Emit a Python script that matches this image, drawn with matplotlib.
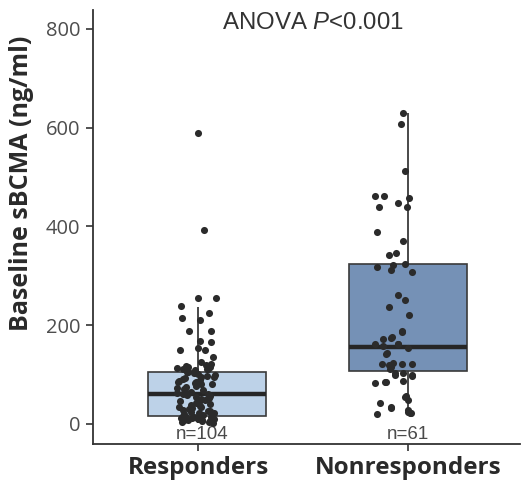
import numpy as np
import matplotlib.pyplot as plt

plt.rcParams['font.family'] = 'Open Sans'
plt.rcParams['mathtext.fontset'] = 'custom'
plt.rcParams['mathtext.rm'] = 'Liberation Sans'
plt.rcParams['mathtext.it'] = 'Liberation Sans:italic'

# groups and box summary (ng/ml)
groups = ['Responders', 'Nonresponders']
counts = [104, 61]
q1 = [16, 108]
med = [61, 156]
q3 = [105, 324]
whislo = [3, 20]
whishi = [237, 630]
yticks = [0, 200, 400, 600, 800]

# responders: sparse upper points and the dense lower cluster
resp_upper = [589, 393, 255, 255, 238, 225, 215, 211, 189, 189, 168, 165,
              150, 153, 150, 136, 111]
resp_lower = [125, 122, 120, 118, 116, 115, 113, 112, 111, 110,
              108, 106, 105, 104, 103, 101, 100, 98, 96, 95, 93, 92, 90,
              88, 86, 85, 83, 81, 80, 78, 76, 74, 72, 71,
              68, 66, 64, 63, 61, 60, 58, 56, 54, 52, 50,
              48, 46, 44, 42, 40, 38, 36, 34, 32, 30,
              28, 26, 25, 23, 22, 20, 19, 18, 16, 15, 14, 13, 12, 11, 10,
              9, 8, 7, 6, 5, 4, 3, 14, 17, 12, 8, 6, 10, 21, 27, 35, 45]

# nonresponders
nonresp = [629, 607, 512, 462, 462, 440, 447, 458, 440,
           388, 371, 342, 346, 317, 321, 312, 324, 308, 262, 251, 236, 221, 188,
           177, 172, 162, 162, 153, 142, 121, 123, 121, 121, 111, 104, 104, 100,
           82, 84, 88, 55, 49, 42, 33, 28, 20, 23,
           157, 143, 161, 119, 116, 99, 98, 84, 57, 34, 25, 22, 175, 186]

# horizontal jitter (layout only)
resp_upper_jit = [0.0, 0.027, 0.0, 0.086, -0.082, 0.052, -0.076, 0.010, -0.041,
                  0.060, 0.010, 0.060, -0.086, 0.0, 0.035, 0.070, -0.073]
nonresp_jit = [-0.022, -0.032, -0.013, -0.159, -0.116, -0.140, -0.048, 0.003, -0.005,
               -0.149, -0.022, -0.089, -0.057, -0.149, -0.073, -0.082, -0.013, 0.021,
               -0.048, -0.013, -0.089, 0.003, -0.030,
               -0.078, -0.118, -0.157, -0.046, 0.002, -0.106, -0.125, -0.070, -0.030,
               0.018, -0.086, -0.062, -0.022, 0.018, -0.157, -0.106, -0.022, -0.014,
               0.002, -0.133, -0.081, 0.002, -0.149, 0.013,
               -0.12, -0.10, -0.05, -0.09, -0.08, -0.06, 0.018, -0.11, -0.012, -0.08,
               0.0, 0.01, -0.08, -0.03]
rng = np.random.default_rng(7)
resp_lower_jit = rng.uniform(-0.10, 0.08, len(resp_lower))

box_pos = [0.045, 1.0]
box_colors = ['#bdd2e8', '#7591b6']
edge = '#3a3a3a'

fig = plt.figure(figsize=(5.28, 4.8), dpi=100)
ax = fig.add_axes([93 / 528, 36 / 480, 427 / 528, 434 / 480])

# whiskers
ax.vlines([0, 1], whislo, whishi, color=edge, lw=1.3, zorder=1)

stats = [dict(q1=q1[i], med=med[i], q3=q3[i], whislo=q1[i], whishi=q3[i],
              fliers=[]) for i in range(2)]
bp = ax.bxp(stats, positions=box_pos, widths=0.562, patch_artist=True,
            showcaps=False, showfliers=False,
            boxprops=dict(edgecolor=edge, linewidth=1.2),
            whiskerprops=dict(visible=False),
            medianprops=dict(color='#262626', linewidth=3.2, solid_capstyle='butt'),
            manage_ticks=False, zorder=2)
for patch, c in zip(bp['boxes'], box_colors):
    patch.set_facecolor(c)

ax.scatter(np.array(resp_upper_jit), resp_upper, s=26, color='#2b2b2b', lw=0, zorder=4)
ax.scatter(resp_lower_jit, resp_lower, s=26, color='#2b2b2b', lw=0, zorder=4)
ax.scatter(1 + np.array(nonresp_jit), nonresp, s=26, color='#2b2b2b', lw=0, zorder=4)

for i, n in enumerate(counts):
    ax.text(i + 0.02 * (1 - i), -22, 'n=%d' % n, ha='center', va='center',
            fontsize=13.5, family='Liberation Sans', color='#4a4a4a')

ax.text(0.545, 812, r'ANOVA $\mathit{P}$<0.001', ha='center', va='center',
        fontsize=17.3, family='Liberation Sans', color='#333333')

ax.set_xlim(-0.5, 1.533)
ax.set_ylim(-40.5, 838)
ax.set_yticks(yticks, labels=[str(t) for t in yticks], fontsize=14.5,
              color='#4d4d4d')
ax.set_xticks([0, 1], labels=groups, fontsize=17.5, fontweight='bold',
              color='#2a2a2a')
ax.tick_params(length=5, width=1.2, color='#333333')
ax.tick_params(axis='y', pad=4)
ax.tick_params(axis='x', pad=4)

ax.set_ylabel('Baseline sBCMA (ng/ml)', fontsize=18, fontweight='bold',
              color='#2a2a2a')
ax.yaxis.set_label_coords(-0.138, 0.60)

for s in ['top', 'right']:
    ax.spines[s].set_visible(False)
for s in ['left', 'bottom']:
    ax.spines[s].set_color('#333333')
    ax.spines[s].set_linewidth(1.3)

fig.savefig('out.png', dpi=100)
